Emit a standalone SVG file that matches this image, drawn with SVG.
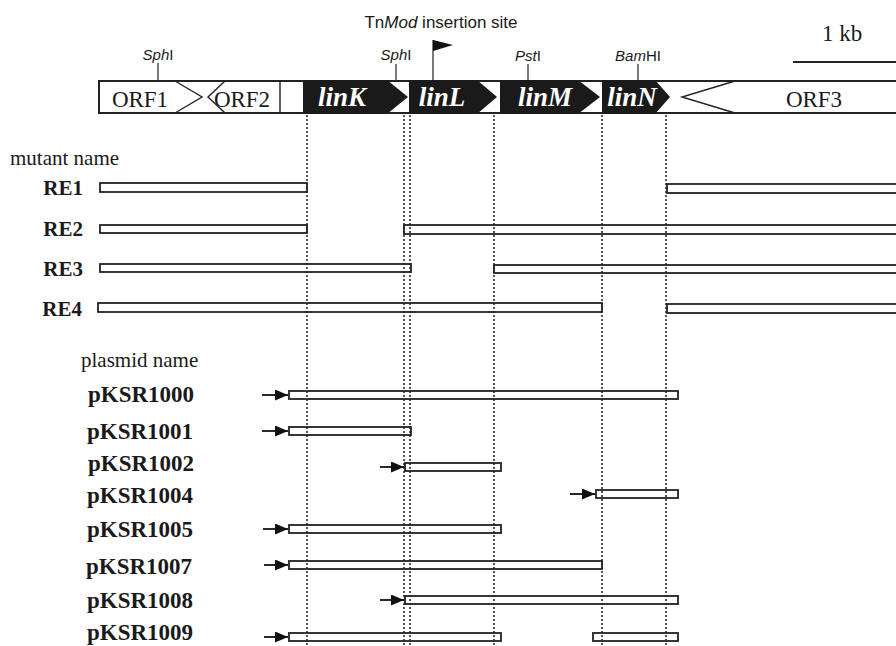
<svg xmlns="http://www.w3.org/2000/svg" width="896" height="646" viewBox="0 0 896 646">
<style>
.serif{font-family:"Liberation Serif","Times New Roman",serif;fill:#1a1a1a}
.sans{font-family:"Liberation Sans",Arial,sans-serif;fill:#1a1a1a}
.lab{font-size:21px}
.row{font-size:21px;font-weight:bold;text-anchor:end}
.pl{font-size:23px;font-weight:bold}
.orf{font-size:23px;text-anchor:middle}
.gene{font-size:27px;font-weight:bold;font-style:italic;fill:#fff;text-anchor:middle}
.site{font-size:15px;text-anchor:middle}
.bar{fill:#fff;stroke:#222;stroke-width:1.8}
.tick{stroke:#222;stroke-width:1.2}
.dot{stroke:#222;stroke-width:1.5;stroke-dasharray:2 2;fill:none}
.arr{stroke:#111;stroke-width:1.8;marker-end:url(#ah)}
.ol{fill:none;stroke:#222;stroke-width:1.4}
</style>
<defs>
<marker id="ah" viewBox="0 0 13 11" refX="13" refY="5.5" markerWidth="13" markerHeight="11" markerUnits="userSpaceOnUse" orient="auto">
<path d="M0,0 L13,5.5 L0,11 Z" fill="#111"/>
</marker>
</defs>
<rect width="896" height="646" fill="#fff"/>

<g id="title">
<text class="sans" x="441" y="28" font-size="17" text-anchor="middle">Tn<tspan font-style="italic">Mod</tspan> insertion site</text>
</g>

<g id="scale">
<text class="serif" x="842" y="41" font-size="23" text-anchor="middle">1 kb</text>
<line x1="793" y1="62" x2="896" y2="62" stroke="#222" stroke-width="2"/>
</g>

<g id="map">
<rect x="99" y="81" width="810" height="32" fill="#fff" stroke="#222" stroke-width="2"/>
<g id="orf1">
<polyline class="ol" points="175,81 202,97 175,113"/>
<text class="serif orf" x="140" y="107">ORF1</text>
</g>
<g id="orf2">
<polyline class="ol" points="225,81 208,97 225,113"/>
<line class="ol" x1="280" y1="81" x2="280" y2="113"/>
<text class="serif orf" x="242" y="107">ORF2</text>
</g>
<g id="linK">
<polygon points="303,80 387,80 408,97 387,114 303,114" fill="#1a1a1a"/>
<text class="serif gene" x="342" y="106">linK</text>
</g>
<g id="linL">
<polygon points="409,80 477,80 497,97 477,114 409,114" fill="#1a1a1a"/>
<text class="serif gene" x="442" y="106">linL</text>
</g>
<g id="linM">
<polygon points="500,80 578,80 600,97 578,114 500,114" fill="#1a1a1a"/>
<text class="serif gene" x="545" y="106">linM</text>
</g>
<g id="linN">
<polygon points="602,80 655,80 670,97 655,114 602,114" fill="#1a1a1a"/>
<text class="serif gene" x="632" y="106">linN</text>
</g>
<g id="orf3">
<polyline class="ol" points="735,81 682,97 735,113"/>
<text class="serif orf" x="814" y="107">ORF3</text>
</g>
</g>

<g id="sites">
<g id="sph1">
<line class="tick" x1="158" y1="63" x2="158" y2="80"/>
<text class="sans site" x="158" y="60"><tspan font-style="italic">Sph</tspan>I</text>
</g>
<g id="sph2">
<line class="tick" x1="396" y1="64" x2="396" y2="80"/>
<text class="sans site" x="396" y="60"><tspan font-style="italic">Sph</tspan>I</text>
</g>
<g id="pst">
<line class="tick" x1="528" y1="64" x2="528" y2="80"/>
<text class="sans site" x="528" y="61"><tspan font-style="italic">Pst</tspan>I</text>
</g>
<g id="bam">
<line class="tick" x1="638" y1="64" x2="638" y2="80"/>
<text class="sans site" x="638" y="61"><tspan font-style="italic">Bam</tspan>HI</text>
</g>
<g id="flag">
<line class="tick" x1="433" y1="40" x2="433" y2="80"/>
<polygon points="433,40 453,45 433,51" fill="#111"/>
</g>
</g>

<g id="mutants">
<text class="serif lab" x="10" y="165">mutant name</text>
<g id="RE1">
<text class="serif row" x="83" y="195">RE1</text>
<rect class="bar" x="100" y="183" width="207" height="9"/>
<rect class="bar" x="667" y="184" width="240" height="9"/>
</g>
<g id="RE2">
<text class="serif row" x="83" y="236">RE2</text>
<rect class="bar" x="100" y="225" width="207" height="8"/>
<rect class="bar" x="404" y="225" width="503" height="9"/>
</g>
<g id="RE3">
<text class="serif row" x="83" y="276">RE3</text>
<rect class="bar" x="100" y="264" width="311" height="8"/>
<rect class="bar" x="494" y="265" width="413" height="8"/>
</g>
<g id="RE4">
<text class="serif row" x="82" y="316">RE4</text>
<rect class="bar" x="98" y="303" width="504" height="9"/>
<rect class="bar" x="667" y="304" width="240" height="9"/>
</g>
</g>

<g id="plasmids">
<text class="serif lab" x="81" y="367">plasmid name</text>
<g id="pKSR1000">
<text class="serif pl" x="88" y="402">pKSR1000</text>
<rect class="bar" x="289" y="391" width="389" height="8"/>
</g>
<g id="pKSR1001">
<text class="serif pl" x="87" y="439">pKSR1001</text>
<rect class="bar" x="289" y="427" width="122" height="8"/>
</g>
<g id="pKSR1002">
<text class="serif pl" x="88" y="471">pKSR1002</text>
<rect class="bar" x="405" y="463" width="96" height="8"/>
</g>
<g id="pKSR1004">
<text class="serif pl" x="87" y="503">pKSR1004</text>
<rect class="bar" x="596" y="490" width="82" height="8"/>
</g>
<g id="pKSR1005">
<text class="serif pl" x="87" y="537">pKSR1005</text>
<rect class="bar" x="289" y="525" width="212" height="8"/>
</g>
<g id="pKSR1007">
<text class="serif pl" x="86" y="574">pKSR1007</text>
<rect class="bar" x="289" y="561" width="313" height="8"/>
</g>
<g id="pKSR1008">
<text class="serif pl" x="87" y="608">pKSR1008</text>
<rect class="bar" x="405" y="596" width="273" height="8"/>
</g>
<g id="pKSR1009">
<text class="serif pl" x="87" y="640">pKSR1009</text>
<rect class="bar" x="289" y="633" width="212" height="8"/>
<rect class="bar" x="593" y="633" width="85" height="8"/>
</g>
</g>

<g id="connectors">
<line class="dot" x1="307" y1="115" x2="307" y2="646"/>
<line class="dot" x1="404" y1="115" x2="404" y2="646"/>
<line class="dot" x1="410" y1="115" x2="410" y2="646"/>
<line class="dot" x1="494" y1="115" x2="494" y2="646"/>
<line class="dot" x1="602" y1="115" x2="602" y2="646"/>
<line class="dot" x1="666" y1="115" x2="666" y2="646"/>
<line class="arr" x1="262" y1="395" x2="288" y2="395"/>
<line class="arr" x1="262" y1="431" x2="288" y2="431"/>
<line class="arr" x1="380" y1="467" x2="404" y2="467"/>
<line class="arr" x1="570" y1="494" x2="595" y2="494"/>
<line class="arr" x1="263" y1="529" x2="288" y2="529"/>
<line class="arr" x1="264" y1="565" x2="288" y2="565"/>
<line class="arr" x1="380" y1="600" x2="404" y2="600"/>
<line class="arr" x1="264" y1="637" x2="288" y2="637"/>
</g>
</svg>
